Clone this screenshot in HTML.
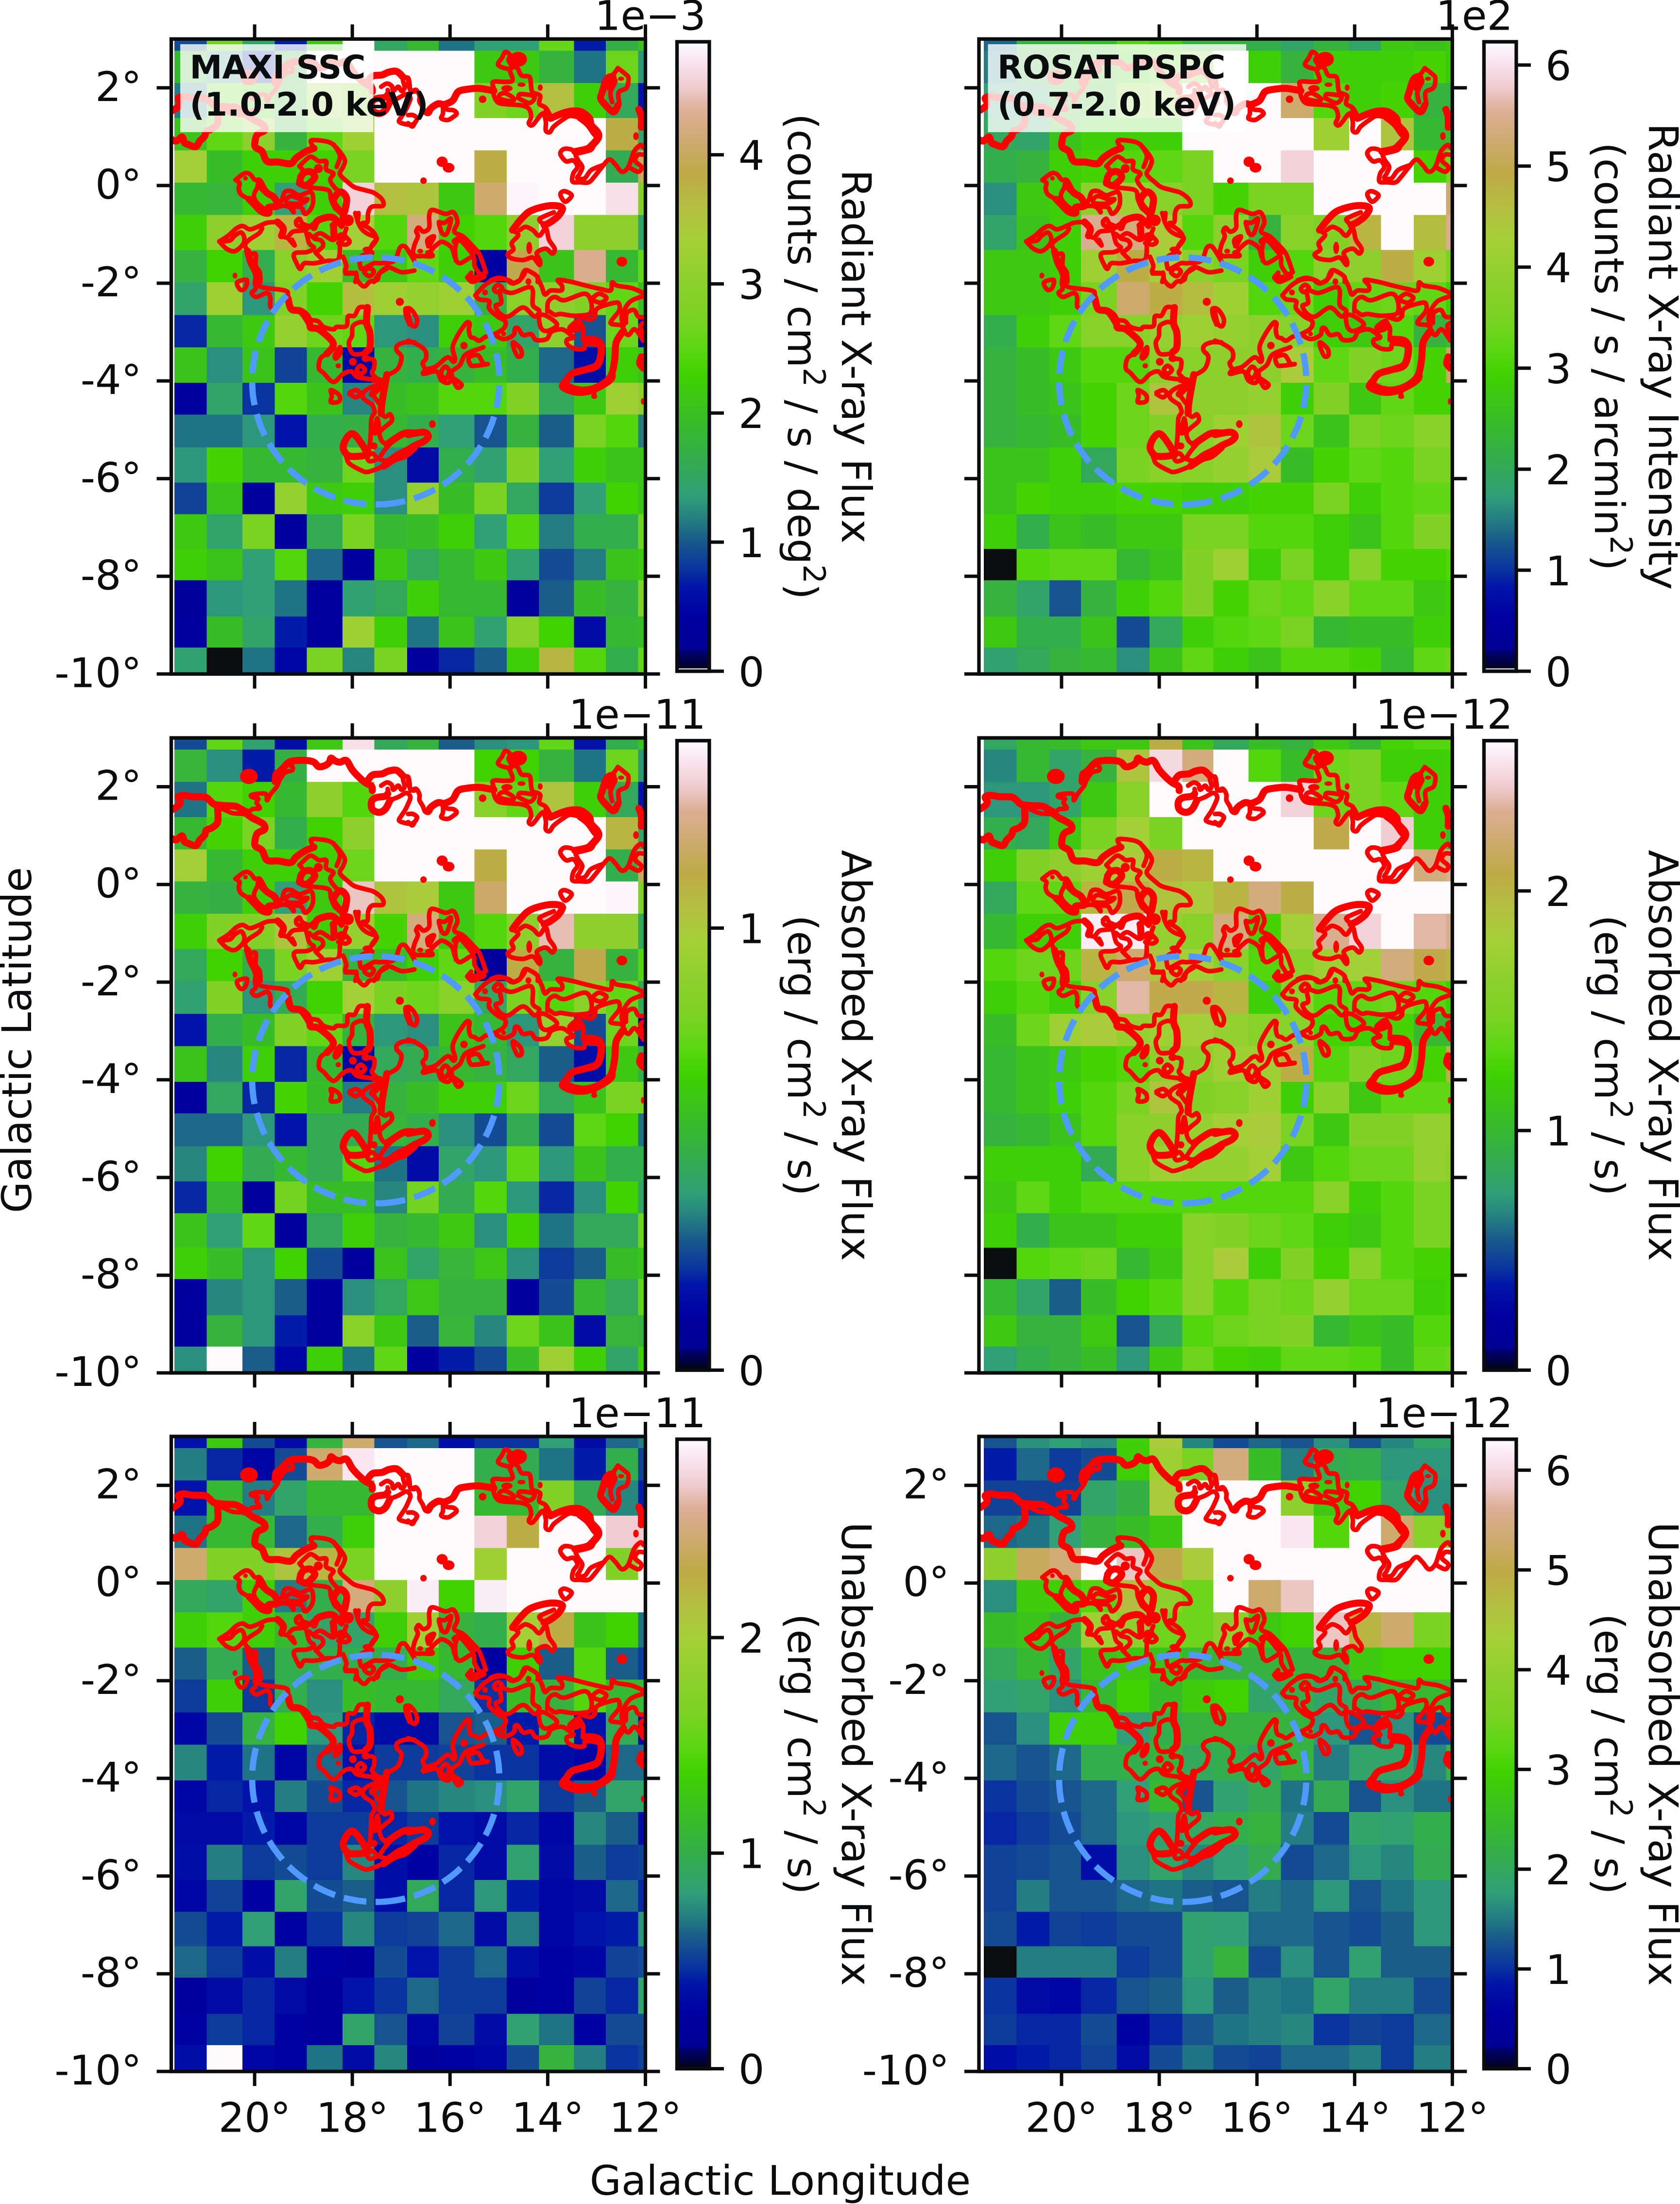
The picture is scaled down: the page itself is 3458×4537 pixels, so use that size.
<!DOCTYPE html>
<html lang="en">
<head>
<meta charset="utf-8">
<title>X-ray flux maps</title>
<style>
html,body{margin:0;padding:0;background:#fff;}
svg{display:block;}
text{font-family:"DejaVu Sans","Liberation Sans",sans-serif;fill:#0a0c0e;white-space:pre;}
</style>
</head>
<body>
<svg id="figure" xmlns="http://www.w3.org/2000/svg" width="3458" height="4537" viewBox="0 0 3458 4537"></svg>
<script>
// Pixel-bin edges on the sky (degrees)
const lonEdgesLeft = [21.64,20.98,20.25,19.59,18.93,18.2,17.55,16.88,16.23,15.5,14.84,14.18,13.46,12.81,12.15,12];
const lonEdgesRight = [21.59,20.92,20.25,19.6,18.87,18.2,17.53,16.89,16.17,15.51,14.84,14.11,13.46,12.79,12.13,12];
const latEdges = [3,2.76,2.1,1.38,0.72,0.06,-0.6,-1.32,-1.98,-2.65,-3.31,-4.04,-4.69,-5.36,-6.08,-6.73,-7.44,-8.08,-8.82,-9.46,-10];

const xTickValues = [20,18,16,14,12];
const yTickValues = [2,0,-2,-4,-6,-8,-10];

// Colormap
const paletteStops = [0,0.012,0.03,0.036,0.087,0.134,0.16,0.207,0.24,0.28,0.326,0.386,0.472,0.51,0.565,0.618,0.684,0.737,0.79,0.84,0.89,0.93,0.97,1];
const paletteReds = [6,0,0,0,0,0,10,25,35,48,50,55,64,90,125,140,165,180,190,205,220,240,250,254];
const paletteGreens = [6,0,0,0,0,20,50,90,125,160,170,185,210,215,210,208,208,190,170,170,175,205,230,252];
const paletteBlues = [12,60,110,150,160,170,160,140,130,120,85,45,0,18,35,45,55,65,70,110,150,210,240,254];

// Colour-scale levels of every map cell, in percent of the colorbar range (100 = saturated white, 0 = black)
const maxiRadiant = [
[19,55,30,14,44,100,31,38,23,28,28,53,14,35,42],
[38,27,14,37,100,100,100,100,100,44,44,36,23,54,27],
[24,52,47,38,62,56,100,100,100,58,54,73,46,32,13],
[42,52,62,36,52,66,100,100,100,100,100,100,100,78,30],
[67,40,46,46,47,56,100,100,100,78,100,100,100,33,82],
[38,37,46,28,46,94,73,72,44,84,99,100,100,96,58],
[46,62,66,76,50,68,50,86,47,50,62,94,62,62,30],
[36,47,34,60,66,40,44,52,46,9,80,42,88,38,52],
[30,66,27,58,48,74,66,64,66,35,60,62,58,52,40],
[15,38,44,64,54,52,27,26,46,44,30,62,20,54,10],
[42,26,42,18,38,11,36,34,36,40,34,22,12,46,42],
[8,30,16,50,42,25,40,42,50,50,58,32,44,66,62],
[23,23,27,13,34,35,38,34,28,20,36,21,56,50,24],
[27,48,38,38,36,54,26,11,34,29,58,28,46,42,42],
[18,42,8,64,44,46,26,64,40,56,31,17,28,47,42],
[44,30,56,7,33,56,38,40,46,28,50,24,34,34,54],
[46,42,28,50,22,7,44,32,38,44,29,19,24,42,44],
[6,27,28,23,7,29,32,46,38,38,7,21,40,36,58],
[8,40,30,14,7,66,46,23,42,29,60,47,11,38,40],
[29,0,23,10,56,25,56,8,15,21,46,76,50,34,52]
];
const rosatRadiant = [
[22,36,36,40,50,46,36,36,34,30,36,30,44,42,44],
[24,36,40,42,46,52,60,100,46,36,46,46,46,48,44],
[28,30,38,42,56,60,100,100,100,84,50,46,48,36,36],
[32,30,42,46,46,46,100,100,100,100,66,100,72,38,40],
[34,36,46,48,50,52,56,100,100,94,100,100,100,48,56],
[26,44,46,62,66,60,56,48,56,56,100,100,100,100,84],
[30,42,46,88,86,70,50,62,36,60,58,76,100,74,88],
[44,44,46,66,78,68,62,56,46,50,60,62,78,66,56],
[44,44,46,56,84,78,74,66,50,54,46,52,54,52,46],
[34,46,52,60,60,64,66,64,62,60,46,44,50,36,40],
[36,40,44,50,50,60,60,62,62,70,52,58,54,48,82],
[36,40,42,48,54,72,62,62,64,46,58,44,52,48,48],
[36,38,40,48,54,58,60,66,72,54,42,56,54,60,60],
[42,42,46,32,56,60,60,64,70,40,48,52,50,56,56],
[42,48,46,46,48,48,46,46,48,48,56,46,50,52,52],
[46,34,42,40,44,44,56,56,50,50,46,42,50,58,58],
[0,50,52,52,38,42,58,66,46,56,46,60,48,48,50],
[36,30,20,36,46,50,58,48,54,52,60,52,52,44,46],
[44,34,34,42,19,32,46,50,52,56,38,40,40,46,46],
[29,32,36,38,26,42,52,46,42,50,50,48,38,52,54]
];
const maxiAbsorbed = [
[19,52,29,12,44,96,32,36,21,26,27,52,13,34,42],
[37,26,14,35,100,100,100,100,100,47,47,36,23,54,27],
[23,50,47,38,62,50,100,100,100,60,52,72,46,32,13],
[38,48,56,34,47,62,100,100,100,100,100,100,100,76,30],
[67,38,46,46,46,54,100,100,100,78,100,100,100,34,82],
[36,35,46,28,44,92,72,70,44,83,100,100,100,99,58],
[46,58,58,72,46,64,48,86,44,50,62,91,62,62,32],
[32,47,34,56,66,36,40,46,52,8,78,36,80,36,50],
[29,58,27,33,47,68,56,54,60,31,56,50,60,52,32],
[13,34,40,58,52,36,27,26,42,38,27,64,19,54,9],
[42,25,46,15,38,10,32,33,38,36,31,21,12,44,34],
[8,31,15,48,40,24,36,40,46,46,54,32,42,56,56],
[22,22,27,13,33,33,37,34,26,19,33,19,51,47,23],
[25,47,33,38,33,50,23,11,30,27,52,27,42,34,34],
[15,38,8,55,40,40,25,55,33,50,27,15,26,47,30],
[42,28,52,8,32,46,36,38,44,26,47,23,32,32,54],
[46,40,27,47,19,8,42,30,37,43,26,17,21,40,42],
[7,25,27,21,8,26,31,43,36,36,8,19,38,32,52],
[8,36,27,14,8,60,44,21,37,25,54,42,11,37,36],
[26,100,21,10,46,23,52,8,14,19,40,66,46,30,46]
];
const rosatAbsorbed = [
[31,38,40,44,44,78,42,32,40,36,44,38,48,50,50],
[25,38,30,36,72,95,86,100,50,40,54,56,46,46,46],
[27,27,30,44,60,100,100,100,100,94,54,56,52,46,46],
[34,32,44,56,68,56,100,100,100,100,80,100,93,46,40],
[46,58,62,66,70,78,76,100,100,100,100,100,100,86,88],
[32,52,52,76,80,72,70,76,86,78,100,100,100,100,100],
[38,46,46,98,98,64,60,86,48,68,88,94,100,90,88],
[50,54,54,76,84,72,68,60,50,60,66,68,86,80,76],
[46,50,46,60,90,80,80,76,46,60,50,52,54,50,46],
[40,54,66,70,64,66,68,64,60,60,48,46,48,38,38],
[38,42,44,48,50,62,62,66,66,78,50,58,54,48,78],
[38,42,46,50,56,72,58,60,66,46,60,44,52,52,52],
[36,38,42,50,60,62,64,68,70,56,44,58,58,64,64],
[46,46,46,33,60,66,64,64,68,44,50,54,54,64,62],
[44,52,46,50,50,50,50,50,50,50,60,46,50,56,56],
[46,34,42,42,46,46,60,58,54,52,46,44,50,56,56],
[0,50,52,54,38,44,60,70,46,58,48,60,50,48,48],
[38,30,21,40,47,50,60,50,56,54,64,54,54,46,48],
[44,36,36,44,20,32,50,54,56,58,38,42,40,50,50],
[28,34,36,40,27,44,54,48,46,52,52,50,40,52,54]
];
const maxiUnabsorbed = [
[13,44,19,11,36,84,20,22,12,16,16,28,11,22,24],
[24,15,10,19,84,97,100,100,100,34,33,23,14,34,18],
[13,38,24,30,38,38,100,100,100,38,38,58,33,25,14],
[23,38,38,22,34,46,100,100,100,94,78,100,100,93,93],
[84,58,58,72,76,56,100,100,100,66,100,100,100,58,100],
[32,30,46,24,34,86,62,98,47,98,100,100,100,100,100],
[46,50,46,38,30,30,46,66,36,34,68,78,42,47,23],
[21,33,21,34,34,34,34,44,38,9,46,21,50,21,17],
[17,46,17,34,26,40,38,38,32,16,40,36,50,38,38],
[10,19,36,47,27,15,12,11,20,21,14,36,13,33,11],
[25,14,23,10,22,13,17,17,18,16,16,12,10,22,22],
[10,15,13,24,19,15,20,23,25,26,30,17,21,30,30],
[11,11,14,10,17,17,15,17,13,11,15,10,25,21,11],
[12,24,17,19,17,25,12,9,15,11,29,11,21,17,18],
[10,18,9,30,19,21,12,32,15,27,14,10,11,22,15],
[19,14,28,9,16,25,17,18,22,11,24,10,13,14,27],
[22,17,12,24,9,8,19,13,17,22,12,9,10,18,19],
[8,11,15,11,8,13,16,22,17,17,8,9,18,15,30],
[9,17,15,9,8,30,20,10,18,11,29,23,9,19,19],
[12,100,10,9,23,11,25,8,9,10,19,36,24,16,18]
];
const rosatUnabsorbed = [
[20,26,28,26,46,70,25,19,22,20,26,20,25,30,30],
[14,22,17,19,46,66,56,86,40,24,33,34,27,27,27],
[18,18,18,30,35,70,100,100,100,62,44,47,30,26,26],
[22,23,28,36,40,44,100,100,100,97,50,100,84,60,60],
[62,82,85,100,92,80,70,100,100,100,100,100,100,100,100],
[26,45,46,50,74,62,54,100,84,92,100,100,100,100,100],
[40,42,36,66,62,54,54,62,44,47,92,76,84,56,58],
[32,38,30,42,44,42,38,36,36,36,36,44,47,47,47],
[28,30,26,38,47,40,45,47,30,34,30,33,38,38,38],
[20,26,46,46,28,34,36,36,36,36,27,20,26,19,19],
[22,20,22,34,34,36,32,34,30,36,24,30,30,25,36],
[16,19,20,22,28,38,20,29,33,23,33,20,26,23,23],
[15,17,19,22,27,29,31,34,36,24,19,30,29,34,34],
[18,19,20,12,26,30,25,28,33,19,22,27,25,33,33],
[18,24,20,20,22,23,21,20,24,22,27,20,23,27,27],
[19,14,18,17,19,19,29,28,22,22,20,19,21,27,27],
[0,24,24,24,17,19,29,36,19,26,20,29,21,21,21],
[16,11,10,15,20,21,27,21,24,23,30,24,24,19,19],
[17,15,15,19,9,15,20,23,24,25,16,18,17,22,22],
[12,14,15,18,11,19,23,19,18,22,22,24,17,24,24]
];

// Colorbar scales (maximum, in multiples of the offset)
const scaleMaxima = [4.875,6.23,1.424,2.627,2.92,6.31];
const scaleTicksA = [0,1,2,3,4];
const scaleTicksB = [0,1,2,3,4,5,6];
const scaleTicksC = [0,1];
const scaleTicksD = [0,1,2];
const scaleTicksE = [0,1,2];
const scaleTicksF = [0,1,2,3,4,5,6];

// Nebula contours, in sky offsets from four tile corners (1/301.65 degree units: east, south)
const tileLon = {west:21.702, east:16.858};
const tileLat = {north:3.0, south:-1.784};
const contourNWThick = [
[0,445,40,420,55,395,42,365,75,355,130,363,205,365,235,385,265,410,330,418,395,422,430,440,465,458],
[640,270,645,225,665,210,690,185,725,150,770,140,840,140,880,150,910,178,950,170,975,150,985,125,1010,142,1040,150,1080,140,1115,195,1150,235,1195,275,1235,298,1240,325],
[465,470,500,495,540,515,570,535,575,565,530,590,515,640,520,670,560,695,590,755,660,760,735,770,770,735,830,695,880,675],
[285,440,285,520,250,555,215,570,205,600,175,630,150,665,100,650,80,640,65,605,30,630,0,620],
[1335,345,1320,360,1260,370,1235,395,1240,440,1280,460,1320,440,1350,385],
[1205,275,1240,230,1300,222,1340,205,1390,200,1430,235],
[470,1310,490,1380,520,1440,535,1500],
[540,900,590,950,635,980,655,1030,600,1040,600,1075,555,1065,510,1020,480,990],
[790,890,800,850,820,825,860,820,885,850,865,880,830,905,800,895],
[1000,1000,1020,960,1050,945,1080,980,1075,1040,1060,1075,1020,1040,1000,1000],
[655,1130,690,1170,680,1215],
[880,1165,905,1120,985,1100,1030,1130,1050,1150],
[1000,1150,1005,1230]
];
const contourNWThin = [
[465,470,500,440,545,435,525,400,535,375,495,365,500,350,580,345,590,385,610,350,650,300,668,260,700,215,745,200,745,175,720,165],
[270,420,330,445,380,465,465,470],
[1295,295,1330,275,1360,290,1370,320,1400,295,1420,320,1440,300,1430,250,1460,240,1470,280,1475,320,1500,325],
[1335,315,1340,345],
[1350,385,1400,365,1450,340,1475,365,1460,410,1440,450,1420,480,1405,510,1440,525,1480,530,1500,520],
[880,675,860,630,900,625,980,640,1030,685,1070,745,1060,790,1040,835,1090,885,1130,915,1200,935,1250,950,1300,990,1305,1030,1240,1035,1215,1070,1210,1130,1180,1140,1240,1185,1265,1230,1240,1270,1225,1300],
[1000,650,1040,720,1020,790],
[790,785,850,730,880,735,910,755,955,755,955,805,1000,830,980,870,1010,920,1045,945],
[790,785,815,820,790,850],
[830,915,885,920,970,935,985,990,1010,1045,1050,1080,1050,1160],
[395,870,450,830,485,835,515,870,545,870,570,910,590,950],
[395,870,420,890,415,925,430,960,480,990],
[540,900,510,960,520,1000,560,1040,600,1060],
[660,1020,680,1000,700,945,740,940,790,965,860,945,875,1000,860,1050,825,1080,800,1040,750,1040,755,1070,730,1040,690,1030,640,1040],
[710,990,740,970,800,990,840,990,800,1015,720,1015,710,990],
[295,1250,350,1215,400,1170,440,1155,480,1175,520,1165,590,1135,655,1130],
[295,1250,340,1295,390,1310,440,1270,450,1230,430,1195,390,1215,360,1245,300,1250],
[450,1270,480,1240,540,1200,560,1170],
[450,1270,470,1310],
[490,1330,520,1330,520,1400,545,1440,550,1500],
[680,1215,715,1225,750,1190,820,1180,870,1145,905,1120],
[720,1230,760,1275,745,1240],
[770,1125,790,1110,810,1140,860,1160],
[770,1125,775,1150,825,1180,850,1260,880,1290,840,1315,770,1320,755,1340,770,1380,795,1420,820,1385,880,1385,960,1370,1030,1360,1040,1260,1040,1210],
[890,1320,935,1280,925,1245,880,1230,920,1200,990,1240,1010,1220,990,1150],
[850,1205,880,1230],
[890,1320,930,1360],
[1135,1075,1155,1140,1180,1180,1215,1205,1265,1225,1260,1250,1230,1290,1210,1320,1165,1350,1165,1400,1180,1420,1250,1385,1290,1385,1375,1370,1410,1290,1440,1280,1470,1320,1500,1370],
[1060,1345,1080,1400,1075,1440,1140,1450,1135,1500],
[1155,1075,1150,1130],
[1080,1170,1070,1210,1100,1250,1075,1270,1030,1260],
[1190,1440,1220,1415,1250,1435,1225,1465,1190,1440],
[1210,1300,1240,1320],
[1500,1430,1420,1440,1340,1410,1290,1440,1250,1500]
];
const contourNWDots = [[478,238,55,47],[907,800,28,28],[457,860,14,14],[1090,1120,36,36],[1050,1225,30,32],[1210,1300,30,18],[392,1462,15,17]];

const contourNEThick = [
[880,490,950,460,1010,445,1070,450,1120,490,1130,530,1170,575,1175,610,1140,655,1120,680,1040,700],
[1060,485,1110,525,1150,580,1170,610,1130,660,1100,680,1030,695],
[1195,340,1225,250,1265,235,1245,300],
[1195,340,1190,370,1230,420,1270,450,1295,410],
[1425,435,1440,480,1440,545],
[645,1180,700,1110,760,1060,870,1030,950,1040,930,1090,880,1130,840,1150],
[290,1250,330,1240,400,1320],
[530,320,440,305,370,310,310,325,275,380,225,405],
[130,440,150,420,185,400,215,405]
];
const contourNEThin = [
[0,240,5,290,20,320,50,315,70,350,70,385,90,420,105,455,130,460,150,420],
[215,405,215,460,205,490,245,500,280,480,300,460,280,440,240,435,225,410],
[0,470,30,470,55,490,40,520,25,540,0,520],
[555,155,580,115,600,80,630,100,620,130,640,170,630,185,580,175,555,155],
[640,170,675,180,700,225,750,235,760,300,770,330,815,350,810,400,850,425,880,480,850,440],
[625,190,645,255,600,265,525,265,530,310,530,350,560,395,640,405,700,410,745,430,760,480,745,520,770,530,830,460,850,510,850,565,875,575,900,540,960,495,1000,475,1060,485],
[565,345,600,335,650,365,640,385,570,370,565,345],
[680,360,695,340,780,355,750,395,680,365],
[1030,695,1000,680,960,680,940,710,975,755,1020,750,1045,790,1020,830,1015,880,1060,885,1115,885,1150,850,1190,800,1240,745,1280,775,1320,820,1360,790,1395,695,1435,655,1453,670],
[1035,720,1050,750,1075,790,1060,830,1045,860,1090,860,1130,810,1200,780],
[1360,790,1420,820,1440,790,1400,750,1420,715,1453,715],
[1295,180,1340,215,1360,240,1350,300,1300,330,1305,400],
[1295,180,1270,215,1225,250],
[1260,250,1280,260,1250,330,1260,390],
[965,940,1010,965,970,1005,940,960,965,940],
[840,1150,810,1115,840,1095,900,1070],
[640,1180,680,1210,640,1260,650,1300,615,1330,640,1355,710,1365,770,1350,810,1395,815,1370,795,1320,850,1295,890,1325,905,1295,870,1240,850,1170,810,1215,770,1180,725,1160,690,1180],
[50,1185,65,1165,95,1190,130,1165,130,1090,150,1055,230,1080,280,1070,305,1130,285,1190,340,1220,400,1280,440,1330,480,1440],
[50,1190,60,1220,40,1270,30,1320,50,1340,90,1340,150,1340,140,1310,190,1260,220,1255,270,1290,290,1350,320,1385,400,1345,410,1400,440,1450],
[190,1140,210,1200,240,1200,265,1110,225,1135,190,1130],
[125,1280,120,1240,160,1220,130,1280],
[480,1440,420,1470,375,1460,400,1490],
[510,1490,560,1475,620,1490,650,1510],
[650,1510,690,1490,720,1430,760,1440,800,1470,800,1500],
[300,1250,290,1300,295,1370]
];
const contourNEDots = [[680,125,54,46],[460,372,23,23],[700,282,25,14],[610,305,35,20],[816,300,15,20],[1315,245,19,13],[1407,600,17,24],[210,758,34,32],[250,795,36,30],[95,875,20,20],[1320,1375,33,30],[748,1290,18,38],[75,1310,18,15],[130,1320,25,18]];

const contourSWThick = [
[720,160,740,225,800,240,850,310,860,340,910,350,990,420,995,460,960,500],
[1210,215,1205,310,1225,370,1225,460,1200,490],
[1330,630,1300,800,1295,870],
[1060,1075,1090,1010,1130,1000,1195,1090,1200,1125,1130,1135,1085,1125,1060,1075],
[1250,660,1300,680,1240,750],
[1310,1195,1380,1150,1440,1130,1500,1080],
[1330,1060,1430,995,1500,990]
];
const contourSWThin = [
[525,0,515,60,520,100,495,125,525,150,590,125,610,155,610,210,640,225],
[545,0,540,60,560,90,700,110,720,140,730,215,800,230,840,260,860,290,905,300,940,335,1000,350,1020,335,1080,330,1090,270,1130,265,1160,215,1210,215],
[960,500,920,530,910,590,940,620,1000,675,1060,625,1110,610,1150,645,1250,660],
[1195,310,1165,305,1120,330,1115,390,1095,435,1120,500,1190,500],
[1010,510,1040,460,1040,500,1015,530,1010,510],
[1168,575,1195,600,1168,625,1145,600,1168,575],
[1200,530,1250,540,1250,590,1240,625,1300,680],
[1500,430,1440,430,1395,450,1390,480,1420,520,1400,590,1350,625,1330,630],
[1295,870,1320,890,1350,875,1360,915,1310,960,1285,990,1300,1040,1335,1050,1430,995],
[1240,815,1185,775,1190,735,1240,705,1300,690],
[1240,815,1255,860,1235,900,1230,1000,1220,1090,1195,1130],
[1270,900,1255,990,1280,960,1270,900],
[1240,750,1280,805,1295,820],
[1100,740,1140,725,1165,745,1140,770,1100,750],
[985,725,1035,755,1035,795,985,800,990,760,985,725],
[405,60,465,45,455,95,425,105,405,60],
[1060,1075,1080,1140,1100,1180,1170,1220,1215,1230,1310,1195],
[1210,1140,1240,1115,1265,1150,1225,1165,1210,1140],
[1280,1150,1325,1085,1405,1010,1500,990],
[1280,1150,1330,1160,1390,1120,1450,1090,1500,1060],
[1140,0,1150,50,1190,85,1225,55,1270,45,1285,5,1330,-25],
[1075,5,1130,5],
[1461,220,1445,225,1450,270,1470,320]
];
const contourSWDots = [[392,18,15,18],[1120,550,24,24],[1030,575,17,16],[1200,530,26,22],[1250,1070,22,22],[1410,180,25,25]];

const contourSEThick = [
[1085,410,1170,420,1195,470,1170,570,1090,600,1010,625,975,680,1005,710,1090,725,1180,700,1250,640,1275,540,1285,430,1330,360],
[0,1000,95,985,125,1010,100,1040,40,1070,0,1115],
[1005,340,1050,305,1055,335,1020,350,1005,340],
[1440,520,1430,560,1453,590]
];
const contourSEThin = [
[415,140,470,80,530,45,600,40,640,65,690,45,720,5],
[800,35,825,85,845,135,880,110,945,110,950,80,925,45,1000,55,1100,80,1185,100,1250,110,1260,60,1290,80,1380,95,1453,125],
[415,140,440,165,500,175,500,220,550,270,600,300,590,345,530,380,480,395,440,420,410,405,385,395,375,350,380,315,360,310,310,380,275,460,290,530,280,550,255,525,230,530,170,580,110,600,95,625,175,610,205,665,250,680,270,640,270,610,320,570,350,510,410,480,440,470,465,460],
[0,420,50,440,105,480,110,530,90,560,110,600],
[530,380,590,410,650,385,660,345,680,345,710,385,760,380,790,415,855,410,885,365,950,350,1000,380,1020,400,980,415,985,445,1030,470,1085,470,1095,440,1160,445,1185,470,1165,560,1100,590,1010,630,945,700,1010,740,1090,745,1170,720,1260,660,1265,600,1275,530,1280,440,1320,360,1360,385,1400,350,1453,420],
[860,240,865,180,905,150,965,170,1090,130,1130,180,1125,250,1060,265,1010,265,940,255,905,260,860,230],
[540,205,575,185,570,110,640,125,740,90,770,110,770,200,810,235,780,270,710,215,620,270,570,255,540,205],
[530,100,555,75,580,95,550,120,530,100],
[1140,155,1180,130,1225,155,1190,185,1140,170],
[1155,270,1170,220,1280,185,1305,200,1300,240,1250,310,1315,325,1330,350],
[1145,230,1150,270,1120,290,1050,265],
[1330,330,1320,265,1370,180,1453,145],
[1345,310,1350,250,1395,230,1420,270,1453,275],
[810,270,850,265,920,320,860,360,820,340,810,270],
[1055,305,1080,340,1080,400,1100,410],
[0,220,30,240,55,290,45,330,20,320,5,270,0,220],
[650,430,695,470,700,510,675,515,650,460,650,430],
[375,525,430,510,465,560,490,565,410,575,385,570,375,525],
[205,610,230,580,255,610,235,650,210,640,205,610],
[275,650,330,690,305,710,275,660],
[1453,310,1435,330,1453,390],
[1145,765,1150,740],
[365,30,390,55,420,50,470,25],
[365,30,390,0]
];
const contourSEDots = [[475,122,18,18],[590,378,15,15],[743,55,18,20],[345,450,23,23],[150,935,20,24],[1447,795,10,20],[1150,765,18,15]];

// Region circle on the sky
const regionLon = 17.52;
const regionLat = -4;
const regionRadius = 2.53;

// ---------- layout ----------
const PX_PER_DEG = 100.55;
const UNITS_PER_DEG = 301.65;
const LON_MIN = 12, LAT_TOP = 3, LAT_BOTTOM = -10;
const AXIS_INK = '#0a0c0e';
const rowTops = [80.3,1519,2957];
const colRights = [1328.5,2989.4];
const colLefts = [352.5,2015];
const barLefts = [1393.5,3054.5];
const BAR_W = 66.5;
const FONT = 84;
const TICK = 30;

const svg = document.getElementById('figure');
const NS = 'http://www.w3.org/2000/svg';
function make(tag, attrs, parent){
  const el = document.createElementNS(NS, tag);
  for (const k in attrs) el.setAttribute(k, attrs[k]);
  (parent || svg).appendChild(el);
  return el;
}
function paletteColor(f){
  if (f >= 1) return 'rgb(253,251,252)';
  if (f <= 0) return 'rgb(10,12,14)';
  let i = 0;
  while (i < paletteStops.length - 2 && f > paletteStops[i+1]) i++;
  const t = (f - paletteStops[i]) / (paletteStops[i+1] - paletteStops[i]);
  const mix = a => Math.round(a[i] + (a[i+1] - a[i]) * t);
  return 'rgb(' + mix(paletteReds) + ',' + mix(paletteGreens) + ',' + mix(paletteBlues) + ')';
}
// smooth Catmull-Rom curve through the mapped contour vertices
function pathFrom(flat, xf, yf){
  const pts = [];
  for (let i = 0; i < flat.length; i += 2) pts.push([xf(flat[i]), yf(flat[i+1])]);
  const n = pts.length;
  const closed = n > 3 && flat[0] === flat[flat.length-2] && flat[1] === flat[flat.length-1];
  const at = i => {
    if (closed) return pts[((i % (n-1)) + (n-1)) % (n-1)];
    return pts[Math.max(0, Math.min(n-1, i))];
  };
  let d = 'M' + pts[0][0].toFixed(1) + ' ' + pts[0][1].toFixed(1);
  for (let i = 0; i < n-1; i++){
    const p0 = at(i-1), p1 = at(i), p2 = at(i+1), p3 = at(i+2);
    d += 'C' + (p1[0]+(p2[0]-p0[0])/6).toFixed(1) + ' ' + (p1[1]+(p2[1]-p0[1])/6).toFixed(1) + ' ' +
         (p2[0]-(p3[0]-p1[0])/6).toFixed(1) + ' ' + (p2[1]-(p3[1]-p1[1])/6).toFixed(1) + ' ' +
         p2[0].toFixed(1) + ' ' + p2[1].toFixed(1);
  }
  return d;
}

const tiles = [
  {lon:tileLon.west, lat:tileLat.north, thick:contourNWThick, thin:contourNWThin, dots:contourNWDots},
  {lon:tileLon.east, lat:tileLat.north, thick:contourNEThick, thin:contourNEThin, dots:contourNEDots},
  {lon:tileLon.west, lat:tileLat.south, thick:contourSWThick, thin:contourSWThin, dots:contourSWDots},
  {lon:tileLon.east, lat:tileLat.south, thick:contourSEThick, thin:contourSEThin, dots:contourSEDots}
];

const panels = [
  {id:'maxi-radiant', row:0, col:0, cells:maxiRadiant, max:scaleMaxima[0], ticks:scaleTicksA, offset:'1e\u22123', tag:['MAXI SSC','(1.0-2.0 keV)'], boxRight:768.6,
   lab1:['Radiant X-ray Flux'], lab2:['(counts / cm','^2',' / s / deg','^2',')']},
  {id:'rosat-radiant', row:0, col:1, cells:rosatRadiant, max:scaleMaxima[1], ticks:scaleTicksB, offset:'1e2', tag:['ROSAT PSPC','(0.7-2.0 keV)'], boxRight:2565,
   lab1:['Radiant X-ray Intensity'], lab2:['(counts / s / arcmin','^2',')']},
  {id:'maxi-absorbed', row:1, col:0, cells:maxiAbsorbed, max:scaleMaxima[2], ticks:scaleTicksC, offset:'1e\u221211',
   lab1:['Absorbed X-ray Flux'], lab2:['(erg / cm','^2',' / s)']},
  {id:'rosat-absorbed', row:1, col:1, cells:rosatAbsorbed, max:scaleMaxima[3], ticks:scaleTicksD, offset:'1e\u221212',
   lab1:['Absorbed X-ray Flux'], lab2:['(erg / cm','^2',' / s)']},
  {id:'maxi-unabsorbed', row:2, col:0, cells:maxiUnabsorbed, max:scaleMaxima[4], ticks:scaleTicksE, offset:'1e\u221211',
   lab1:['Unabsorbed X-ray Flux'], lab2:['(erg / cm','^2',' / s)']},
  {id:'rosat-unabsorbed', row:2, col:1, cells:rosatUnabsorbed, max:scaleMaxima[5], ticks:scaleTicksF, offset:'1e\u221212',
   lab1:['Unabsorbed X-ray Flux'], lab2:['(erg / cm','^2',' / s)']}
];

// colorbar gradient
const defs = make('defs', {});
const grad = make('linearGradient', {id:'bar-gradient', x1:0, y1:1, x2:0, y2:0}, defs);
paletteStops.forEach((s, i) => {
  make('stop', {offset:s, 'stop-color':'rgb(' + paletteReds[i] + ',' + paletteGreens[i] + ',' + paletteBlues[i] + ')'}, grad);
});

function appendLabelRuns(textEl, runs){
  let raised = false;
  runs.forEach(r => {
    const sup = r.charAt(0) === '^';
    const attrs = {};
    if (sup){ attrs['font-size'] = 62; attrs.dy = -32; raised = true; }
    else if (raised){ attrs.dy = 32; raised = false; }
    const t = make('tspan', attrs, textEl);
    t.textContent = sup ? r.slice(1) : r;
  });
}

panels.forEach(p => {
  const top = rowTops[p.row];
  const right = colRights[p.col];
  const left = colLefts[p.col];
  const bottom = top + (LAT_TOP - LAT_BOTTOM) * PX_PER_DEG;
  const xOf = lon => right - (lon - LON_MIN) * PX_PER_DEG;
  const yOf = lat => top + (LAT_TOP - lat) * PX_PER_DEG;
  const lonEdges = p.col === 0 ? lonEdgesLeft : lonEdgesRight;

  const g = make('g', {});
  
  

  const clipId = 'clip-' + p.id;
  const clip = make('clipPath', {id:clipId}, defs);
  make('rect', {x:left, y:top, width:right-left, height:bottom-top}, clip);

  // heatmap
  const heat = make('g', {'clip-path':'url(#' + clipId + ')', 'shape-rendering':'crispEdges'}, g);
  
  
  p.cells.forEach((rowVals, r) => {
    rowVals.forEach((level, c) => {
      const x0 = xOf(lonEdges[c]), x1 = xOf(lonEdges[c+1]);
      const y0 = yOf(latEdges[r]), y1 = yOf(latEdges[r+1]);
      const cell = make('rect', {x:x0.toFixed(1), y:y0.toFixed(1), width:(x1-x0+0.5).toFixed(1), height:(y1-y0+0.5).toFixed(1), fill:paletteColor(level/100)}, heat);
      
      
    });
  });

  // contours
  const contour = make('g', {'clip-path':'url(#' + clipId + ')', fill:'none', stroke:'#ff0000', 'stroke-linejoin':'round', 'stroke-linecap':'round'}, g);
  
  
  tiles.forEach(tile => {
    const xf = u => xOf(tile.lon - u / UNITS_PER_DEG);
    const yf = v => yOf(tile.lat - v / UNITS_PER_DEG);
    tile.thin.forEach(line => {
      const path = make('path', {d:pathFrom(line, xf, yf), 'stroke-width':9.5}, contour);
      
      
    });
    tile.thick.forEach(line => {
      const path = make('path', {d:pathFrom(line, xf, yf), 'stroke-width':14.5}, contour);
      
      
    });
    tile.dots.forEach(dot => {
      const blob = make('ellipse', {cx:xf(dot[0]).toFixed(1), cy:yf(dot[1]).toFixed(1), rx:(dot[2]/3).toFixed(1), ry:(dot[3]/3).toFixed(1), fill:'#ff0000', stroke:'none'}, contour);
      
      
    });
  });

  // region circle, starting near the bottom and running anticlockwise on screen
  const pts = [];
  const phi0 = 0.055;
  for (let i = 0; i <= 240; i++){
    const phi = phi0 + i / 240 * Math.PI * 2;
    const lon = regionLon - regionRadius * Math.sin(phi);
    const lat = regionLat - regionRadius * Math.cos(phi);
    pts.push(xOf(lon).toFixed(1) + ',' + yOf(lat).toFixed(1));
  }
  const ring = make('polyline', {points:pts.join(' '), fill:'none', stroke:'#4f99ff', 'stroke-width':12.8, 'stroke-dasharray':'47 19', 'clip-path':'url(#' + clipId + ')'}, g);
  
  

  // instrument tag
  if (p.tag){
    const boxLeft = left + 18.5;
    const box = make('rect', {x:boxLeft, y:91, width:p.boxRight-boxLeft, height:181, fill:'#ffffff', 'fill-opacity':0.8}, g);
    
    
    p.tag.forEach((line, i) => {
      const t = make('text', {x:left+38, y:161.7+i*76.5, 'font-size':67.2, 'font-weight':'bold'}, g);
      
      
      t.textContent = line;
    });
  }

  // ticks
  const tickPath = [];
  xTickValues.forEach(v => {
    const x = xOf(v).toFixed(1);
    tickPath.push('M' + x + ' ' + (top-TICK) + 'V' + top);
    tickPath.push('M' + x + ' ' + bottom + 'V' + (bottom+TICK));
  });
  yTickValues.forEach(v => {
    const y = yOf(v).toFixed(1);
    tickPath.push('M' + (left-TICK) + ' ' + y + 'H' + left);
    tickPath.push('M' + right + ' ' + y + 'H' + (right+TICK));
  });
  const ticks = make('path', {d:tickPath.join(''), stroke:AXIS_INK, 'stroke-width':7, fill:'none'}, g);
  
  

  // spines
  const spine = make('rect', {x:left, y:top, width:right-left, height:bottom-top, fill:'none', stroke:AXIS_INK, 'stroke-width':7.3}, g);
  
  

  // y tick labels
  if (p.col === 0 || p.row === 2){
    yTickValues.forEach(v => {
      const t = make('text', {x:left-61, y:yOf(v)+27, 'text-anchor':'end', 'font-size':FONT}, g);
      
      
      t.textContent = v + '\u00b0';
    });
  }
  // x tick labels
  if (p.row === 2){
    xTickValues.forEach(v => {
      const t = make('text', {x:xOf(v), y:bottom+124.5, 'text-anchor':'middle', 'font-size':FONT}, g);
      
      
      t.textContent = v + '\u00b0';
    });
  }

  // colorbar
  const barX = barLefts[p.col];
  const barTop = top + 5.7;
  const barBottom = top + 1301.5;
  const barH = barBottom - barTop;
  const bar = make('rect', {x:barX, y:barTop, width:BAR_W, height:barH, fill:'url(#bar-gradient)'}, g);
  
  
  if (p.row === 0){
    const under = make('rect', {x:barX, y:barBottom-6, width:BAR_W, height:3, fill:'#e4e4e8'}, g);
    
    
  }
  const barFrame = make('rect', {x:barX, y:barTop, width:BAR_W, height:barH, fill:'none', stroke:AXIS_INK, 'stroke-width':7.3}, g);
  
  
  p.ticks.forEach(v => {
    const y = barBottom - v / p.max * barH;
    const tk = make('line', {x1:barX+BAR_W, x2:barX+BAR_W+30, y1:y, y2:y, stroke:AXIS_INK, 'stroke-width':7}, g);
    
    
    const t = make('text', {x:barX+BAR_W+60, y:y+31, 'font-size':FONT}, g);
    
    
    t.textContent = String(v);
  });

  // scale offset
  const off = make('text', {x:barX+BAR_W-7, y:top-19, 'text-anchor':'end', 'font-size':FONT}, g);
  
  
  off.textContent = p.offset;

  // colorbar label, two lines reading downward
  const cy = (barTop + barBottom) / 2;
  const line1 = make('text', {transform:'translate(' + (barX+339.5) + ' ' + cy + ') rotate(90)', 'text-anchor':'middle', 'font-size':FONT}, g);
  
  
  appendLabelRuns(line1, p.lab1);
  const line2 = make('text', {transform:'translate(' + (barX+228.5) + ' ' + cy + ') rotate(90)', 'text-anchor':'middle', 'font-size':FONT}, g);
  
  
  appendLabelRuns(line2, p.lab2);
});

// shared axis titles
const yTitle = make('text', {transform:'translate(64 2141) rotate(-90)', 'text-anchor':'middle', 'font-size':FONT});


yTitle.textContent = 'Galactic Latitude';
const xTitle = make('text', {x:1606, y:4518, 'text-anchor':'middle', 'font-size':FONT});


xTitle.textContent = 'Galactic Longitude';
</script>
</body>
</html>
